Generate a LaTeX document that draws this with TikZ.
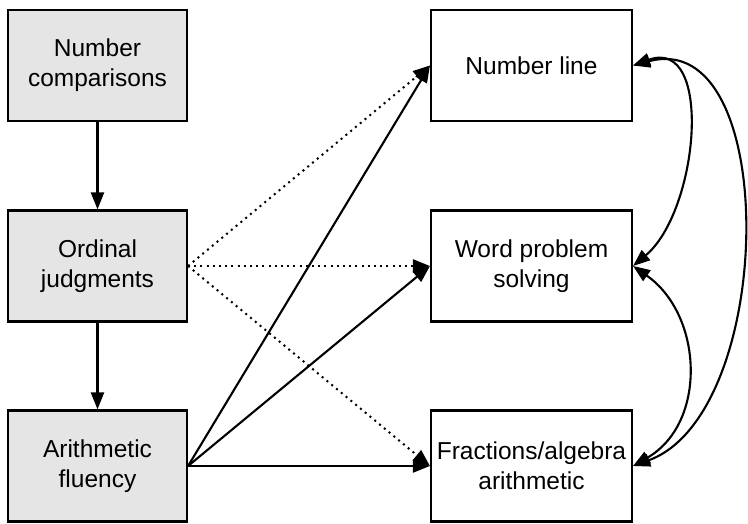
\documentclass[tikz,border=0pt]{standalone}
\usepackage{fontspec}
\setmainfont{Liberation Sans}
\usetikzlibrary{arrows.meta}
\begin{document}
\begin{tikzpicture}[x=1pt,y=1pt,
  box/.style={draw=black,line width=2.1pt,align=center,inner sep=2pt,
    font=\fontsize{24.5}{30}\selectfont},
  leftbox/.style={box,fill=gray!20,minimum width=179pt,minimum height=111pt},
  rightbox/.style={box,fill=white,minimum width=201pt,minimum height=111pt},
  arr/.style={line width=2.1pt,-{Triangle[length=17pt,width=13pt]}},
  dotarr/.style={arr,line width=2pt,dash pattern=on 2pt off 4.2pt},
  dbl/.style={line width=2.1pt,{Triangle[length=17pt,width=13pt]}-{Triangle[length=17pt,width=13pt]}}]
\useasboundingbox (0,0) rectangle (748,524);
\node[leftbox] (nc) at (97.5,458.5) {Number\\comparisons};
\node[leftbox] (oj) at (97.5,258) {Ordinal\\judgments};
\node[leftbox] (af) at (97.5,58) {Arithmetic\\fluency};
\node[rightbox] (nl) at (531.5,458.5) {Number line};
\node[rightbox] (wp) at (531.5,258) {Word problem\\solving};
\node[rightbox] (fr) at (531.5,58) {Fractions/algebra\\arithmetic};
\draw[arr] (nc) -- (oj);
\draw[arr] (oj) -- (af);
\draw[dotarr] (oj.east) -- (nl.west);
\draw[dotarr] (oj.east) -- (wp.west);
\draw[dotarr] (oj.east) -- (fr.west);
\draw[arr] (af.east) -- (nl.west);
\draw[arr] (af.east) -- (wp.west);
\draw[arr] (af.east) -- (fr.west);
\draw[dbl] (nl.east) to[out=20,in=40,looseness=1.1] (wp.east);
\draw[dbl] (wp.east) to[out=-35,in=30,looseness=1.1] (fr.east);
\draw[dbl] (nl.east) to[out=15,in=20,looseness=0.98] (fr.east);
\end{tikzpicture}
\end{document}
